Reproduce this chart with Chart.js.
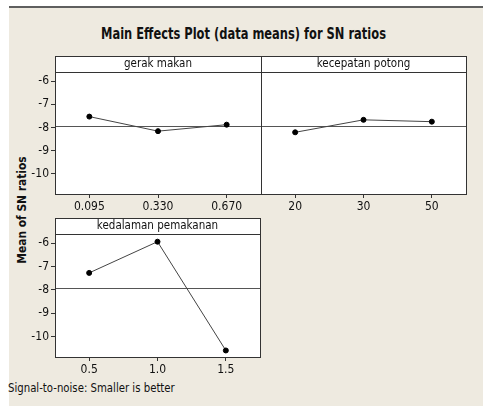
<!DOCTYPE html>
<html>
<head>
<meta charset="utf-8">
<script src="https://cdn.jsdelivr.net/npm/chart.js@4.4.1/dist/chart.umd.min.js"></script>
<style>
  body { margin: 0; background: #fff; width: 483px; height: 406px; overflow: hidden; position: relative; font-family: "DejaVu Sans Condensed", sans-serif; }
  #frame { position: absolute; left: 9px; top: 6px; right: 0; bottom: 0; background: #eeeae0; border-top: 2px solid #5f5f5f; }
  canvas { position: absolute; }
  #title { position: absolute; left: 0; width: 487px; top: 25px; text-align: center; font-weight: bold; font-size: 15px; color: #111; transform: scaleX(0.85); }
  #ylab { position: absolute; left: 21px; top: 210px; font-weight: bold; font-size: 12.5px; color: #111; white-space: nowrap; transform: translate(-50%, -50%) rotate(-90deg) scaleX(0.95); }
  #foot { position: absolute; left: 8px; top: 381px; font-size: 12px; color: #111; white-space: nowrap; transform-origin: left center; transform: scaleX(0.94); }
</style>
</head>
<body>
<div id="frame"></div>
<div id="title">Main Effects Plot (data means) for SN ratios</div>
<div id="ylab">Mean of SN ratios</div>
<div id="foot">Signal-to-noise: Smaller is better</div>
<canvas id="c1" width="270" height="180" style="left:0;top:40px"></canvas>
<canvas id="c2" width="222" height="180" style="left:261px;top:40px"></canvas>
<canvas id="c3" width="270" height="181" style="left:0;top:202px"></canvas>
<script>
const gerakLabels = ['0.095', '0.330', '0.670'];
const gerakSN = [-7.53, -8.16, -7.88];
const kecepatanLabels = ['20', '30', '50'];
const kecepatanSN = [-8.21, -7.67, -7.75];
const kedalamanLabels = ['0.5', '1.0', '1.5'];
const kedalamanSN = [-7.27, -5.93, -10.60];
const overallMean = -7.92;
const yTicks = [-6, -7, -8, -9, -10];
const yMin = -10.88;
const yMax = -5.6;

const tickFont = { family: 'DejaVu Sans Condensed', size: 12 };

const panelPlugin = {
    id: 'panel',
    beforeDraw(chart) {
        const a = chart.chartArea;
        const ctx = chart.ctx;
        ctx.save();
        ctx.fillStyle = '#fff';
        ctx.fillRect(a.left, a.top, a.right - a.left, a.bottom - a.top);
        ctx.restore();
    },
    beforeDatasetsDraw(chart) {
        const a = chart.chartArea;
        const ctx = chart.ctx;
        const y = Math.round(chart.scales.y.getPixelForValue(overallMean)) + 0.5;
        ctx.save();
        ctx.strokeStyle = '#555';
        ctx.lineWidth = 1;
        ctx.beginPath();
        ctx.moveTo(a.left, y);
        ctx.lineTo(a.right, y);
        ctx.stroke();
        ctx.restore();
    },
    afterDraw(chart, args, opts) {
        const a = chart.chartArea;
        const ctx = chart.ctx;
        ctx.save();
        ctx.strokeStyle = '#333';
        ctx.lineWidth = 1;
        ctx.fillStyle = '#fff';
        ctx.fillRect(a.left, a.top - 16, a.right - a.left, 16);
        ctx.strokeRect(a.left + 0.5, a.top - 16 + 0.5, a.right - a.left, 16);
        ctx.strokeRect(a.left + 0.5, a.top + 0.5, a.right - a.left, a.bottom - a.top);
        ctx.fillStyle = '#111';
        ctx.font = '11.5px "DejaVu Sans Condensed"';
        ctx.textAlign = 'center';
        ctx.textBaseline = 'middle';
        ctx.fillText(opts.header, (a.left + a.right) / 2, a.top - 8);
        ctx.restore();
    }
};

function makePanel(id, labels, values, header, showY, pad) {
    return new Chart(document.getElementById(id), {
        type: 'line',
        data: {
            labels: labels,
            datasets: [{
                data: values,
                borderColor: '#444',
                borderWidth: 1,
                pointBackgroundColor: '#000',
                pointBorderColor: '#000',
                pointRadius: 2.5,
                tension: 0
            }]
        },
        options: {
            responsive: false,
            animation: false,
            layout: { padding: pad, autoPadding: false },
            plugins: {
                legend: { display: false },
                tooltip: { enabled: false },
                panel: { header: header }
            },
            scales: {
                x: {
                    type: 'category',
                    offset: true,
                    afterFit: s => { s.height = 26; },
                    grid: { offset: false, drawOnChartArea: false, tickLength: 4, color: '#333' },
                    border: { display: false },
                    ticks: { color: '#111', font: tickFont, padding: 2, maxRotation: 0 }
                },
                y: {
                    display: showY,
                    min: yMin,
                    max: yMax,
                    afterBuildTicks: s => { s.ticks = yTicks.map(v => ({ value: v })); },
                    afterFit: s => { s.width = showY ? 55 : 0; },
                    grid: { drawOnChartArea: false, tickLength: 4, color: '#333' },
                    border: { display: false },
                    ticks: { color: '#111', font: tickFont, padding: 2 }
                }
            }
        },
        plugins: [panelPlugin]
    });
}

makePanel('c1', gerakLabels, gerakSN, 'gerak makan', true, { left: 0, top: 32, right: 9, bottom: 0 });
makePanel('c2', kecepatanLabels, kecepatanSN, 'kecepatan potong', false, { left: 0, top: 32, right: 17, bottom: 0 });
makePanel('c3', kedalamanLabels, kedalamanSN, 'kedalaman pemakanan', true, { left: 0, top: 32, right: 10, bottom: 0 });
</script>
</body>
</html>
